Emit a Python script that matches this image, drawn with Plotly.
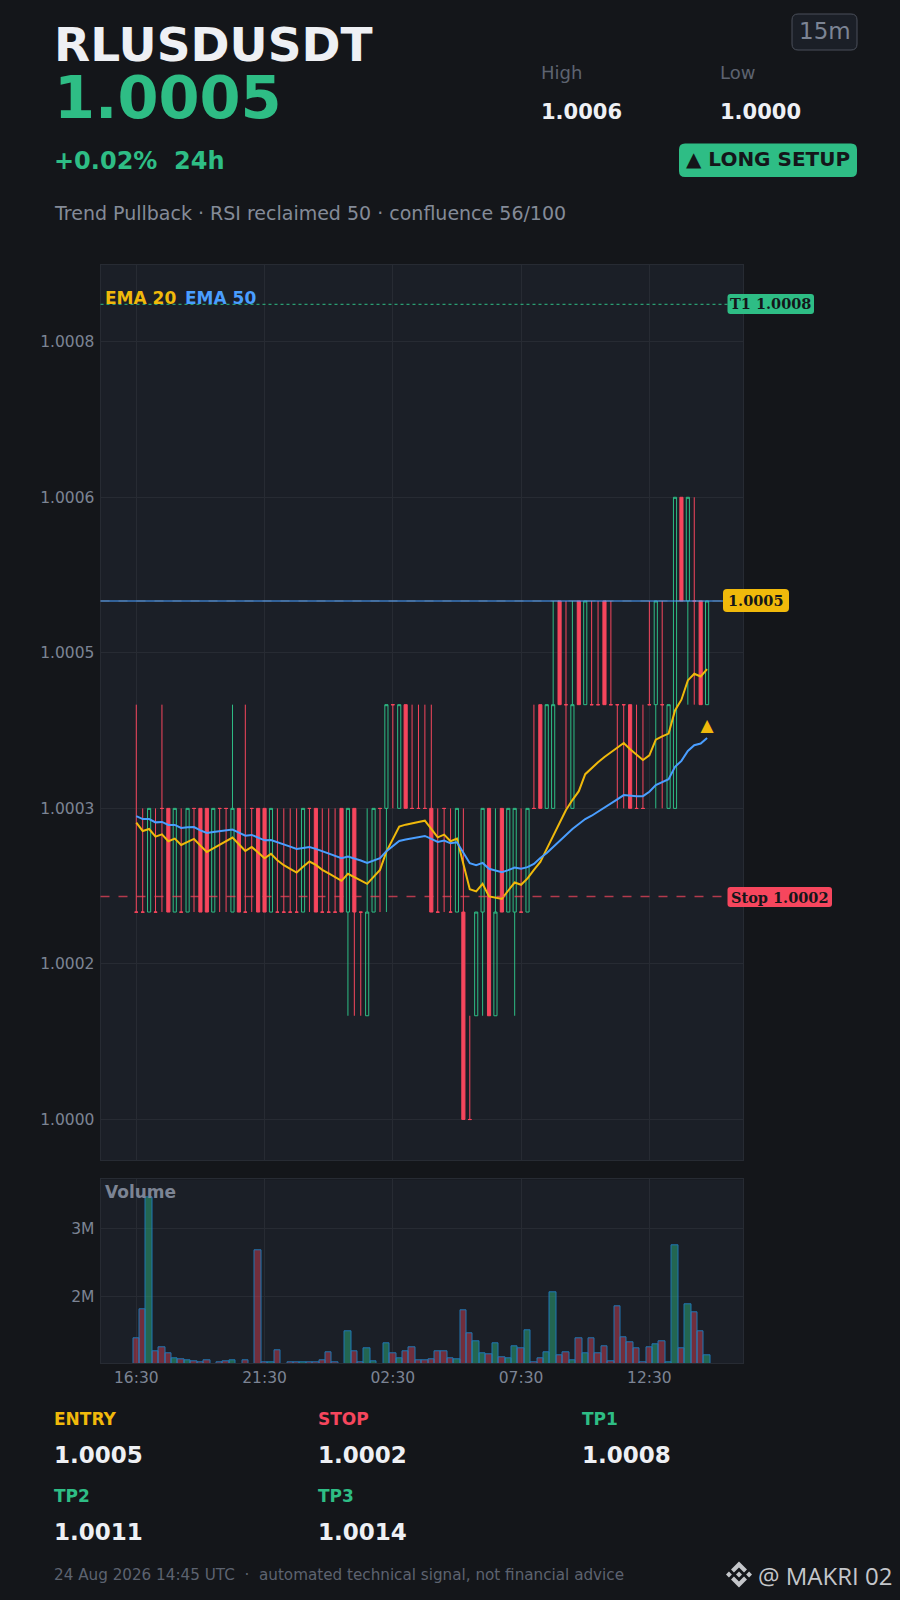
#Import Required Libraries
import pandas as pd
import plotly.graph_objects as go

W, H = 900, 1600

BG = '#14161a'
PANEL = '#1b1f27'
GRID = '#272b33'
MUTED = '#7c8494'
DIM = '#5d6370'
WHITE = '#eef0f4'
GREEN = '#2ebd85'
RED = '#f6465d'
YELLOW = '#f0b90b'
BLUE = '#4a9eff'
FONT = 'DejaVu Sans'

#Data: candles as ticks of 0.0001 above 1.0000, 15m bars
start_time = '2026-08-23 16:30'
open_ticks = [2,2,2,2,3,3,2,2,2,3, 3,3,2,3,3,2,3,2,3,3, 3,2,2,2,2,2,2,3,3,2,
              2,2,3,2,3,2,1,2,3,3, 4,3,4,3,3,3,3,2,3,2, 2,2,0,1,2,3,1,3,2,2,
              2,2,3,4,3,3,5,4,3,5, 4,4,4,5,4,4,4,4,3,3, 4,4,4,3,3,6,5,5,5,4]
high_ticks = [4,3,3,3,4,3,3,3,3,3, 3,3,3,3,3,4,3,4,3,3, 3,3,3,3,3,3,3,3,3,3,
              3,3,3,3,3,2,3,3,3,4, 4,4,4,4,4,4,4,3,3,3, 3,3,1,2,3,3,3,3,3,3,
              3,3,4,4,4,5,5,5,5,5, 5,5,5,5,5,4,4,4,4,4, 5,5,5,4,6,6,6,6,5,5]
low_ticks = [2,2,2,2,2,2,2,2,2,2, 2,2,2,2,2,2,2,2,2,2, 2,2,2,2,2,2,2,2,2,2,
             2,2,2,1,1,1,1,2,2,2, 3,3,3,3,3,3,2,2,2,2, 2,0,0,1,1,1,1,2,2,1,
             2,2,3,3,3,3,4,3,3,4, 4,4,4,4,4,3,3,3,3,3, 4,3,3,3,3,5,4,4,4,4]
close_ticks = [2,2,3,2,3,2,3,2,3,3, 2,2,3,3,3,3,2,2,3,2, 2,3,2,2,2,2,3,3,2,2,
               2,2,2,3,2,2,2,3,3,4, 4,4,3,3,3,3,2,2,3,2, 3,0,0,2,3,1,2,2,3,3,
               2,3,3,3,4,4,4,4,4,4, 5,4,4,4,4,4,4,3,3,3, 4,5,4,4,6,5,6,5,4,5]

#EMAs in millionths above 1.0000
ema20_ppm = [286.2,278.2,280.1,272.8,275.0,268.3,270.8,264.7,267.6,270.5,
             264.1,258.0,261.5,265.1,268.6,271.8,265.4,259.0,262.8,257.1,
             251.9,256.1,250.0,245.2,241.3,238.1,243.6,248.7,245.5,240.7,
             237.2,233.7,230.1,236.9,233.7,230.5,227.2,234.0,240.7,258.3,
             270.2,282.4,284.3,285.9,286.9,288.1,280.1,272.1,274.7,268.3,
             270.8,246.2,222.1,219.9,227.2,215.1,213.8,212.8,220.8,228.5,
             226.3,232.4,240.7,248.4,260.9,273.4,285.9,298.4,308.0,316.6,
             333.0,339.0,344.5,349.6,354.1,358.3,363.1,357.0,351.9,346.7,
             351.2,366.3,369.5,372.1,394.5,404.8,423.4,429.8,427.2,434.2]
ema50_ppm = [292.6,289.7,289.7,286.5,286.9,284.0,284.0,281.1,281.7,282.0,
             278.8,276.3,277.2,278.2,278.8,279.5,276.6,273.7,274.4,271.5,
             269.2,269.5,267.6,265.4,263.1,260.9,261.9,262.8,260.9,258.7,
             256.4,254.2,251.9,253.5,251.9,249.7,247.4,249.7,251.9,258.7,
             264.1,268.6,269.9,271.2,272.1,273.4,270.5,267.6,268.9,266.3,
             267.3,257.4,247.1,245.2,247.4,241.7,240.1,238.5,240.4,243.0,
             241.7,243.3,246.4,252.2,257.0,262.8,268.6,274.3,280.1,284.9,
             289.7,292.9,296.7,300.6,304.8,308.7,312.8,312.1,311.8,311.8,
             316.0,322.4,325.0,328.2,340.0,345.8,355.4,360.9,362.5,367.9]

#Volume in millions, the axis starts near 1M so the smallest bars fall below it
volume_m = [1.377,1.804,3.46,1.186,1.245,1.157,1.083,1.069,1.054,1.039,
            1.025,1.054,0.95,1.025,1.039,1.054,0.95,1.054,0.95,2.672,
            1.025,1.025,1.201,0.95,1.025,1.025,1.025,1.025,1.025,1.054,
            1.172,1.025,0.95,1.48,1.186,1.025,1.23,1.039,0.95,1.304,
            1.157,1.083,1.186,1.245,1.054,1.054,1.069,1.186,1.186,1.083,
            1.069,1.789,1.451,1.333,1.157,1.142,1.304,1.098,1.083,1.26,
            1.23,1.495,1.025,1.083,1.172,2.054,1.127,1.172,1.054,1.377,
            1.157,1.377,1.157,1.26,1.039,1.848,1.392,1.319,1.23,1.025,
            1.245,1.289,1.333,1.025,2.746,1.23,1.877,1.76,1.48,1.127]

price_tickvals = [1.0, 1.00015, 1.0003, 1.00045, 1.0006, 1.00075]
price_ticktext = ['1.0000', '1.0002', '1.0003', '1.0005', '1.0006', '1.0008']
volume_tickvals = [2000000, 3000000]
volume_ticktext = ['2M', '3M']

entry_price = 1.0005
stop_price = 1.000215
t1_price = 1.000786
signal_price = 1.000379

times = pd.date_range(start_time, periods=len(open_ticks), freq='15min')
opens = [1 + t * 1e-4 for t in open_ticks]
highs = [1 + t * 1e-4 for t in high_ticks]
lows = [1 + t * 1e-4 for t in low_ticks]
#flat candles are drawn red, so nudge their close a hair below the open
closes = [1 + t * 1e-4 - (1e-7 if t == o else 0) for t, o in zip(close_ticks, open_ticks)]
ema20 = [1 + v * 1e-6 for v in ema20_ppm]
ema50 = [1 + v * 1e-6 for v in ema50_ppm]
volume = [v * 1e6 for v in volume_m]
volume_colors = ['rgba(46,189,133,0.45)' if c > o else 'rgba(246,70,93,0.4)'
                 for o, c in zip(open_ticks, close_ticks)]

#Charts
figure = go.Figure()

figure.add_trace(go.Candlestick(
    x=times, open=opens, high=highs, low=lows, close=closes,
    increasing=dict(line=dict(color=GREEN, width=1), fillcolor='rgba(0,0,0,0)'),
    decreasing=dict(line=dict(color=RED, width=1), fillcolor=RED),
    xaxis='x', yaxis='y', showlegend=False))
figure.add_trace(go.Scatter(x=times, y=ema20, mode='lines', line=dict(color=YELLOW, width=2),
                            xaxis='x', yaxis='y', showlegend=False))
figure.add_trace(go.Scatter(x=times, y=ema50, mode='lines', line=dict(color=BLUE, width=2),
                            xaxis='x', yaxis='y', showlegend=False))
figure.add_trace(go.Scatter(x=[times[-1]], y=[signal_price], mode='text', text=['▲'], textposition='middle center',
                            textfont=dict(family=FONT, size=17, color=YELLOW),
                            xaxis='x', yaxis='y', showlegend=False))
figure.add_trace(go.Bar(x=times, y=volume, marker=dict(color=volume_colors, line=dict(color='#1f77b4', width=1)),
                        xaxis='x2', yaxis='y2', showlegend=False))


def fx(x):
    return x / W


def fy(y):
    return 1 - y / H


def add_text(x, y, text, size, color, bold=False, family=FONT, anchor='left'):
    figure.add_annotation(xref='paper', yref='paper', x=fx(x), y=fy(y), text=text, showarrow=False,
                          xanchor=anchor, yanchor='middle', borderpad=0,
                          font=dict(family=family, size=size, color=color, weight='bold' if bold else 'normal'))


def add_badge(x0, y0, x1, y1, r, fill, line=None):
    X0, X1, Y0, Y1 = fx(x0), fx(x1), fy(y0), fy(y1)
    rx, ry = r / W, r / H
    path = (f'M{X0 + rx},{Y0} L{X1 - rx},{Y0} Q{X1},{Y0} {X1},{Y0 - ry} L{X1},{Y1 + ry} Q{X1},{Y1} {X1 - rx},{Y1} '
            f'L{X0 + rx},{Y1} Q{X0},{Y1} {X0},{Y1 + ry} L{X0},{Y0 - ry} Q{X0},{Y0} {X0 + rx},{Y0} Z')
    figure.add_shape(type='path', path=path, xref='paper', yref='paper', fillcolor=fill,
                     line=dict(color=line or fill, width=1 if line else 0))


def add_level(price, color, dash, width=1, opacity=1.0):
    figure.add_shape(type='line', xref='paper', yref='y', x0=fx(100.5), x1=fx(743), y0=price, y1=price,
                     opacity=opacity, line=dict(color=color, width=width, dash=dash))


#Price levels
add_level(t1_price, GREEN, 'dot', width=1.3, opacity=0.8)
add_level(stop_price, RED, 'dash', width=1.5, opacity=0.7)
add_level(entry_price, BLUE, 'solid', width=1.6, opacity=0.7)
add_level(entry_price, '#9fb4c8', 'dash', width=0.7, opacity=0.5)

#Header
add_text(53, 44.5, 'RLUSDUSDT', 47, WHITE, bold=True)
add_text(53, 97, '1.0005', 59, GREEN, bold=True)
add_text(53, 161, '+0.02%\u00a0\u00a024h', 24, GREEN, bold=True)
add_text(52.5, 213, 'Trend Pullback · RSI reclaimed 50 · confluence 56/100', 19, '#848b98')
add_text(540, 72, 'High', 18, DIM)
add_text(719, 72, 'Low', 18, DIM)
add_text(540, 112, '1.0006', 21, WHITE, bold=True)
add_text(719, 112, '1.0000', 21, WHITE, bold=True)
add_badge(792, 14, 857, 50, 6, PANEL, line='#4a4f5a')
add_text(824.5, 31, '15m', 23, MUTED, anchor='center')
add_badge(679, 143.5, 857, 177, 6, GREEN)
add_text(685, 159, '▲ LONG SETUP', 20, BG, bold=True)

#Chart labels
add_text(104, 298, 'EMA 20', 17, YELLOW, bold=True)
add_text(184, 298, 'EMA 50', 17, BLUE, bold=True)
add_text(104, 1192, 'Volume', 17, MUTED, bold=True)
add_badge(723, 589, 789, 612, 4, YELLOW)
add_text(756, 600.5, '1.0005', 14.5, BG, bold=True, family='DejaVu Serif', anchor='center')
add_badge(727.5, 294, 814, 314, 3, GREEN)
add_text(770.5, 304, 'T1 1.0008', 14.5, BG, bold=True, family='DejaVu Serif', anchor='center')
add_badge(727.5, 887, 832, 907, 3, RED)
add_text(779.5, 897, 'Stop 1.0002', 14.5, BG, bold=True, family='DejaVu Serif', anchor='center')

#Trade levels
add_text(53, 1419, 'ENTRY', 17, YELLOW, bold=True)
add_text(317, 1419, 'STOP', 17, RED, bold=True)
add_text(581, 1419, 'TP1', 17, GREEN, bold=True)
add_text(53, 1455, '1.0005', 23, WHITE, bold=True)
add_text(317, 1455, '1.0002', 23, WHITE, bold=True)
add_text(581, 1455, '1.0008', 23, WHITE, bold=True)
add_text(53, 1496, 'TP2', 17, GREEN, bold=True)
add_text(317, 1496, 'TP3', 17, GREEN, bold=True)
add_text(53, 1532, '1.0011', 23, WHITE, bold=True)
add_text(317, 1532, '1.0014', 23, WHITE, bold=True)

#Footer
add_text(53, 1575, '24 Aug 2026 14:45 UTC\u00a0\u00a0·\u00a0\u00a0automated technical signal, not financial advice', 15.2, DIM)
add_text(757, 1575, '@ MAKRI 02', 24, '#c4c6ca', family='Open Sans')

#Binance mark, outline given in its own 126.6 unit box
logo_parts = [
    [(38.73, 53.2), (63.3, 28.63), (87.89, 53.22), (102.19, 38.92), (63.3, 0), (24.43, 38.87)],
    [(0, 63.31), (14.3, 49.01), (28.6, 63.31), (14.3, 77.61)],
    [(38.73, 73.41), (63.3, 97.98), (87.89, 73.39), (102.19, 87.69), (63.3, 126.61), (24.43, 87.74)],
    [(98.01, 63.31), (112.31, 49.01), (126.61, 63.31), (112.31, 77.61)],
    [(77.78, 63.3), (63.3, 48.82), (48.82, 63.3), (63.3, 77.78)],
]
for part in logo_parts:
    pts = [(fx(726 + px * 26 / 126.61), fy(1561.5 + py * 26 / 126.61)) for px, py in part]
    path = 'M' + ' L'.join(f'{a},{b}' for a, b in pts) + ' Z'
    figure.add_shape(type='path', path=path, xref='paper', yref='paper', fillcolor='#c4c6ca', line=dict(width=0))

x_range = ['2026-08-23 15:06:18', '2026-08-24 16:09:00']
x_style = dict(range=x_range, type='date', tick0=start_time, dtick=18000000, tickformat='%H:%M',
               showgrid=True, gridcolor=GRID, gridwidth=1, zeroline=False, showline=True, linecolor=GRID,
               mirror=True, domain=[fx(100.5), fx(743)], ticks='', rangeslider=dict(visible=False),
               tickfont=dict(family=FONT, size=15.5, color=MUTED))
y_style = dict(showgrid=True, gridcolor=GRID, gridwidth=1, zeroline=False, showline=True, linecolor=GRID,
               mirror=True, ticks='', ticklabelstandoff=2, tickfont=dict(family=FONT, size=15.5, color=MUTED))

figure.update_layout(
    width=W, height=H,
    margin=dict(l=0, r=0, t=0, b=0),
    paper_bgcolor=BG, plot_bgcolor=PANEL,
    bargap=0,
    font=dict(family=FONT),
    xaxis=dict(**x_style, anchor='y', showticklabels=False),
    xaxis2=dict(**x_style, anchor='y2'),
    yaxis=dict(**y_style, domain=[fy(1160.3), fy(264.5)], range=[0.9999606, 1.0008245],
               tickvals=price_tickvals, ticktext=price_ticktext),
    yaxis2=dict(**y_style, domain=[fy(1363.3), fy(1179.3)], range=[1014700, 3720600],
                tickvals=volume_tickvals, ticktext=volume_ticktext),
)

figure.write_html('out.html', config=dict(displayModeBar=False),
                  post_script="document.body.style.margin='0';document.body.style.background='" + BG + "';")
